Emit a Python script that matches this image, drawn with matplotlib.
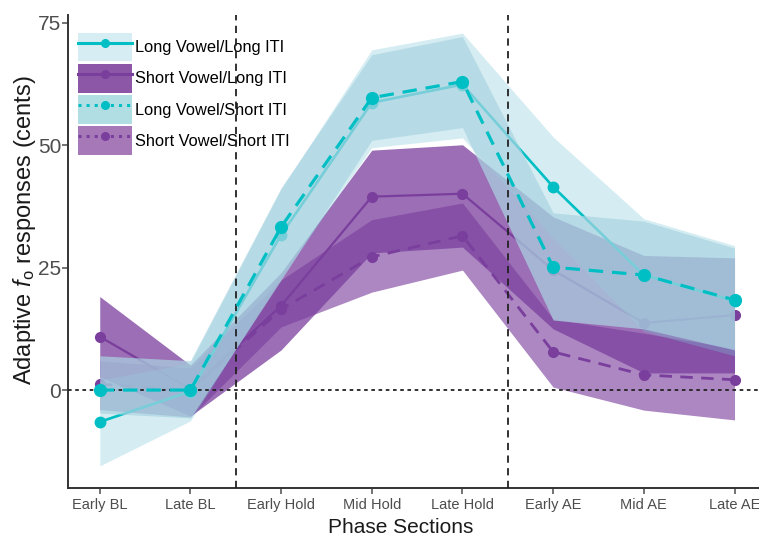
import matplotlib
matplotlib.use("Agg")
import matplotlib.pyplot as plt
from matplotlib.patches import Patch
from matplotlib.lines import Line2D

plt.rcParams['font.family'] = ['Liberation Sans', 'DejaVu Sans']
plt.rcParams['mathtext.fontset'] = 'custom'
plt.rcParams['mathtext.rm'] = 'Liberation Sans'
plt.rcParams['mathtext.it'] = 'Liberation Sans:italic'

phases = ['Early BL', 'Late BL', 'Early Hold', 'Mid Hold', 'Late Hold', 'Early AE', 'Mid AE', 'Late AE']

# Long Vowel / Long ITI
ll_mean = [-6.5, -0.3, 31.7, 58.7, 62.4, 41.5, 23.5, 18.2]
ll_low = [-15.5, -6.3, 23.0, 49.5, 51.5, 31.0, 12.0, 7.0]
ll_high = [2.0, 5.5, 41.0, 69.5, 72.9, 51.7, 35.0, 29.5]

# Short Vowel / Long ITI
sl_mean = [10.9, 0.2, 17.2, 39.5, 40.1, 24.5, 13.7, 15.3]
sl_low = [2.7, -5.3, 8.2, 28.0, 29.2, 12.5, 3.5, 3.5]
sl_high = [19.1, 5.1, 24.0, 49.0, 50.1, 35.4, 27.5, 27.0]

# Long Vowel / Short ITI
ls_mean = [0.0, 0.0, 33.3, 59.7, 63.0, 25.1, 23.5, 18.4]
ls_low = [-4.7, -5.7, 22.5, 51.0, 53.6, 14.3, 12.5, 8.2]
ls_high = [7.0, 6.0, 41.3, 68.5, 72.2, 36.2, 34.5, 29.0]

# Short Vowel / Short ITI
ss_mean = [1.2, 0.0, 16.5, 27.2, 31.5, 7.8, 3.1, 2.1]
ss_low = [-4.0, -5.5, 12.9, 20.0, 24.5, 0.6, -4.1, -6.1]
ss_high = [6.0, 4.5, 22.5, 34.8, 38.2, 14.5, 11.6, 8.5]

teal = '#00BFC4'
purple = '#7A3E9D'
x = list(range(len(phases)))

fig = plt.figure(figsize=(7.59, 5.36), dpi=100)
ax = fig.add_axes([0.0896, 0.0896, 0.9104, 0.8824])

# purple ribbons and lines first
ax.fill_between(x, sl_low, sl_high, color=purple, alpha=0.75, lw=0, zorder=1)
ax.fill_between(x, ss_low, ss_high, color=purple, alpha=0.62, lw=0, zorder=1)
ax.plot(x, sl_mean, color=purple, lw=1.6, marker='o', ms=7, zorder=2)
ax.plot(x, ss_mean, color=purple, lw=2.0, ls=(0, (4.5, 3)), marker='o', ms=7, zorder=2)

# teal ribbons on top
ax.fill_between(x, ll_low, ll_high, color=(118/255, 198/255, 215/255), alpha=0.3, lw=0, zorder=3)
ax.plot(x, ll_mean, color=teal, lw=1.9, marker='o', ms=7.5, zorder=4)
ax.fill_between(x, ls_low, ls_high, color=(170/255, 212/255, 225/255), alpha=0.7, lw=0, zorder=5)
ax.plot(x, ls_mean, color=teal, lw=2.3, ls=(0, (4.5, 2.8)), marker='o', ms=8.5, zorder=7)

# reference lines
ax.axhline(0, color='#222222', lw=1.3, ls=(0, (2, 2)), zorder=6)
ax.axvline(1.5, color='#222222', lw=1.3, ls=(0, (4, 3)), zorder=6)
ax.axvline(4.5, color='#222222', lw=1.3, ls=(0, (4, 3)), zorder=6)

ax.set_xlim(-0.35, 7.27)
ax.set_ylim(-20, 76.6)
ax.set_xticks(x)
ax.set_xticklabels(phases)
ax.set_yticks([0, 25, 50, 75])

for s in ['top', 'right']:
    ax.spines[s].set_visible(False)
for s in ['left', 'bottom']:
    ax.spines[s].set_color('#333333')
    ax.spines[s].set_linewidth(1.4)
ax.tick_params(axis='y', labelsize=15, colors='#4D4D4D', length=4, width=1.1, pad=1)
ax.tick_params(axis='x', labelsize=10.5, colors='#4D4D4D', length=4, width=1.1)

ax.set_xlabel('Phase Sections', fontsize=15, color='#1A1A1A', labelpad=4, x=0.482)
ax.set_ylabel(r'Adaptive $\mathit{f}_\mathrm{o}$ responses (cents)', fontsize=17, color='#1A1A1A',
              labelpad=0, y=0.545)

labels = ['Long Vowel/Long ITI', 'Short Vowel/Long ITI', 'Long Vowel/Short ITI', 'Short Vowel/Short ITI']
key_fill = ['#D6EEF3', '#8B57A6', '#B1DEE3', '#A678B8']
key_ls = ['-', '-', ':', ':']
key_col = [teal, purple, teal, purple]
handles = []
for fc, ls, lc in zip(key_fill, key_ls, key_col):
    handles.append((Patch(facecolor=fc, edgecolor='none'),
                    Line2D([], [], color=lc, ls=ls, lw=2.2, marker='o', ms=5.5)))

ax.legend(handles, labels, loc='upper left', bbox_to_anchor=(0.015, 0.962), frameon=False,
          fontsize=11.8, handlelength=3.25, handleheight=2.3, labelspacing=0.16,
          handletextpad=0.2, borderaxespad=0, borderpad=0)

fig.savefig('out.png', dpi=100)
